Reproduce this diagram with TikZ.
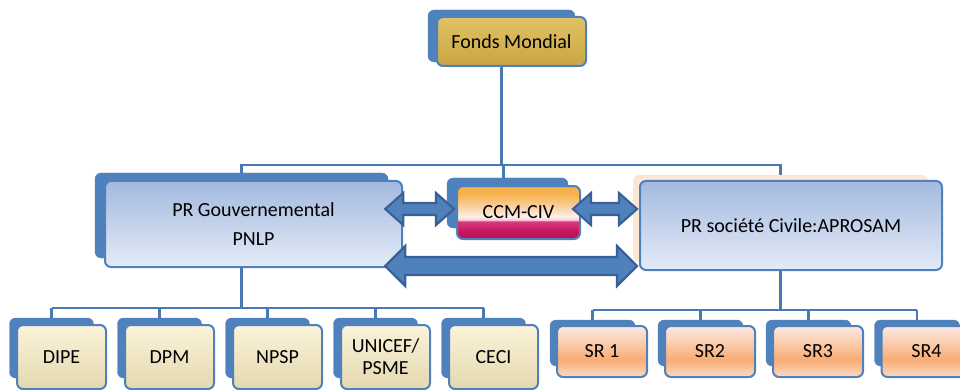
\documentclass[tikz,border=0pt]{standalone}
\usepackage{fontspec}
\setmainfont{Carlito}
\usetikzlibrary{calc}
\definecolor{ob}{HTML}{4F81BD}
\definecolor{obd}{HTML}{3A6195}
\definecolor{conncol}{HTML}{4A7AB5}
\definecolor{prtop}{HTML}{A3B9E0}
\definecolor{prbot}{HTML}{E4EBF6}
\definecolor{beigetop}{HTML}{FBF3DA}
\definecolor{beigebot}{HTML}{E4D8B0}
\definecolor{goldtop}{HTML}{E0C264}
\definecolor{goldmid}{HTML}{EEDB92}
\definecolor{goldbot}{HTML}{C9A642}
\definecolor{peach}{HTML}{FCE6D4}
\definecolor{ccmA}{HTML}{B51050}
\definecolor{ccmB}{HTML}{C81860}
\definecolor{ccmC}{HTML}{D83A7A}
\definecolor{ccmD}{HTML}{F9C8D8}
\definecolor{ccmE}{HTML}{FDEFEA}
\definecolor{ccmF}{HTML}{F9D2A5}
\definecolor{ccmG}{HTML}{F6B351}
\definecolor{ccmH}{HTML}{F5AC45}
\definecolor{srA}{HTML}{FCD9C4}
\definecolor{srB}{HTML}{F8AC74}
\definecolor{srC}{HTML}{FBD3B8}
\definecolor{srD}{HTML}{FDE8E6}
\pgfdeclareverticalshading{ccmshade}{100bp}{color(0bp)=(ccmA); color(25bp)=(ccmA); color(33bp)=(ccmB); color(41.5bp)=(ccmC); color(43bp)=(ccmD); color(46bp)=(ccmE); color(55bp)=(ccmF); color(67bp)=(ccmG); color(75bp)=(ccmH); color(100bp)=(ccmH)}
\pgfdeclareverticalshading{srshade}{100bp}{color(0bp)=(srA); color(25bp)=(srA); color(42bp)=(srB); color(62bp)=(srC); color(75bp)=(srD); color(100bp)=(srD)}
\pgfdeclarelayer{bg}
\pgfsetlayers{bg,main}
\tikzset{
  backbox/.style={fill=ob, draw=ob, rounded corners=6pt, inner sep=0pt},
  peachbox/.style={fill=peach, rounded corners=6pt, inner sep=0pt},
  frontbox/.style={draw=ob, line width=2pt, rounded corners=6pt, inner sep=0pt, align=center, text=black, font=\fontsize{20}{24}\selectfont},
  prfill/.style={top color=prtop, bottom color=prbot},
  beigefill/.style={top color=beigetop, bottom color=beigebot},
  goldfill/.style={top color=goldtop, middle color=goldmid, bottom color=goldbot},
  conn/.style={draw=conncol, line width=2.5pt},
  barrow/.style={fill=ob, draw=obd, line width=2.2pt, line join=miter},
}
\newcommand\dblarrow[5]{%
  \draw[barrow] let \p1=#1, \p2=#2 in
    (\x1,\y1) -- (\x1+#5pt,\y1+#4pt) -- (\x1+#5pt,\y1+#3pt) -- (\x2-#5pt,\y1+#3pt)
    -- (\x2-#5pt,\y1+#4pt) -- (\x2,\y1) -- (\x2-#5pt,\y1-#4pt) -- (\x2-#5pt,\y1-#3pt)
    -- (\x1+#5pt,\y1-#3pt) -- (\x1+#5pt,\y1-#4pt) -- cycle;}
\begin{document}
\begin{tikzpicture}[x=1pt,y=-1pt]
\useasboundingbox (0,0) rectangle (960,390);
\clip (0,0) rectangle (960,390);

% Fonds Mondial
\node[backbox, minimum width=147pt, minimum height=52pt] (fmback) at (501.5,36) {};
\node[frontbox, goldfill, minimum width=149pt, minimum height=49pt] (fm) at (511.5,41.5) {Fonds Mondial};

% PR Gouvernemental
\node[backbox, minimum width=293pt, minimum height=85pt] (gouvback) at (241.5,215.5) {};
\node[frontbox, prfill, minimum width=297pt, minimum height=86pt, font=\fontsize{20}{29}\selectfont] (gouv) at (253.5,224) {PR Gouvernemental\\PNLP};

% CCM-CIV
\node[backbox, minimum width=121pt, minimum height=50pt] (ccmback) at (507.5,203) {};
\node[frontbox, shading=ccmshade, minimum width=123pt, minimum height=53pt] (ccm) at (518.5,212.5) {CCM-CIV};

% APROSAM
\node[peachbox, minimum width=295pt, minimum height=87pt] (aproback) at (780.5,218.5) {};
\node[frontbox, prfill, minimum width=302pt, minimum height=89pt] (apro) at (791,225.5) {PR soci\'et\'e Civile:APROSAM};

% left children
\foreach \nm/\cx/\txt in {dipe/51.5/DIPE, dpm/159.5/DPM, npsp/267.5/NPSP, unicef/375.5/{UNICEF/\\[-2pt]PSME}, ceci/483.5/CECI}{
  \node[backbox, minimum width=84pt, minimum height=60pt] (\nm back) at (\cx,348) {};
  \node[frontbox, beigefill, minimum width=89pt, minimum height=64pt] (\nm) at (\cx+10,357) {\txt};
}

% right children
\foreach \nm/\cx/\txt in {srone/592.5/SR 1, srtwo/700.5/SR2, srthree/808.5/SR3, srfour/917/SR4}{
  \node[backbox, minimum width=85pt, minimum height=46pt] (\nm back) at (\cx,343) {};
  \node[frontbox, shading=srshade, minimum width=90pt, minimum height=51pt] (\nm) at (\cx+9.5,351.5) {\txt};
}

% connectors (behind boxes)
\coordinate (busTop) at (0,165);
\coordinate (busL) at (0,308);
\coordinate (busR) at (0,310);
\begin{pgfonlayer}{bg}
  \draw[conn] (fmback.south) -- (fmback.south |- busTop);
  \draw[conn] (gouvback.north) -- (gouvback.north |- busTop) -- (aproback.north |- busTop) -- (aproback.north);
  \draw[conn] ($(ccmback.north)+(-4,0)$) -- ($(ccmback.north |- busTop)+(-4,0)$);
  \draw[conn] (gouvback.south) -- (gouvback.south |- busL);
  \draw[conn] (dipeback.north |- busL) -- (ceciback.north |- busL);
  \foreach \c in {dipe,dpm,npsp,unicef,ceci}{
    \draw[conn] (\c back.north) -- (\c back.north |- busL);
  }
  \draw[conn] (aproback.south) -- (aproback.south |- busR);
  \draw[conn] (sroneback.north |- busR) -- (srfourback.north |- busR);
  \foreach \c in {srone,srtwo,srthree,srfour}{
    \draw[conn] (\c back.north) -- (\c back.north |- busR);
  }
\end{pgfonlayer}

% double block arrows
\coordinate (ya) at (0,209);
\coordinate (yb) at (0,266);
\coordinate (a1s) at ($(gouvback.east |- ya)+(-3,0)$);
\coordinate (a1e) at ($(ccm.west |- ya)+(-2,0)$);
\coordinate (a2s) at ($(ccm.east |- ya)+(-8,0)$);
\coordinate (a2e) at ($(apro.west |- ya)+(-2,0)$);
\coordinate (a3s) at ($(gouvback.east |- yb)+(-3,0)$);
\coordinate (a3e) at ($(apro.west |- yb)+(-2,0)$);
\dblarrow{(a1s)}{(a1e)}{6}{16}{18}
\dblarrow{(a2s)}{(a2e)}{6}{16}{18}
\dblarrow{(a3s)}{(a3e)}{9}{20}{20}
\end{tikzpicture}
\end{document}
